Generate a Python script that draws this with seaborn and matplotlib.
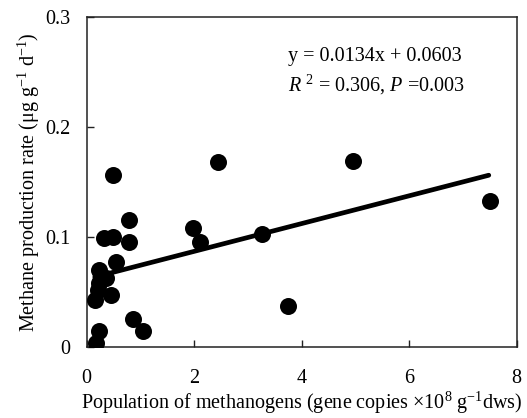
import matplotlib
matplotlib.use("Agg")
import matplotlib.pyplot as plt
import seaborn as sns
import pandas as pd

sns.set_theme(style="white")
plt.rcParams['font.family'] = ['Liberation Serif', 'DejaVu Serif']
plt.rcParams['mathtext.fontset'] = 'custom'
plt.rcParams['mathtext.rm'] = 'Liberation Serif'
plt.rcParams['mathtext.it'] = 'Liberation Serif:italic'

# Data
population = [0.49, 0.79, 0.32, 0.49, 0.79, 0.55, 0.23, 0.36, 0.23, 0.21, 0.45, 0.15,
              0.86, 1.05, 0.23, 0.17, 1.98, 2.11, 3.26, 3.75, 2.45, 4.96, 7.50]
methane = [0.156, 0.115, 0.099, 0.100, 0.095, 0.0775, 0.070, 0.063, 0.058, 0.052, 0.047, 0.043,
           0.025, 0.0145, 0.0145, 0.004, 0.108, 0.095, 0.103, 0.037, 0.168, 0.169, 0.133]
# trend line as drawn in the chart (endpoints)
trend_x = [0.15, 7.48]
trend_y = [0.0635, 0.156]
eq_text = "y = 0.0134x + 0.0603"
stat_text = r"$R$ $^{2}$ = 0.306, $P$ =0.003"
x_ticks = [0, 2, 4, 6, 8]
y_ticks = [0, 0.1, 0.2, 0.3]
y_ticklabels = ["0", "0.1", "0.2", "0.3"]

FS = 14.5
df = pd.DataFrame({"population": population, "methane": methane})
fit_df = pd.DataFrame({"x": trend_x, "y": trend_y})

fig = plt.figure(figsize=(5.27, 4.18), dpi=100)
ax = fig.add_axes([0.1645, 0.170, 0.816, 0.790])

sns.lineplot(data=fit_df, x="x", y="y", ax=ax, color="black", linewidth=3.4, zorder=2,
             solid_capstyle="round")
sns.scatterplot(data=df, x="population", y="methane", ax=ax, color="black", s=150,
                edgecolor="black", linewidth=0, zorder=3)

ax.set_xlim(0, 8)
ax.set_ylim(0, 0.3)
ax.set_xticks(x_ticks)
ax.set_xticklabels([str(t) for t in x_ticks])
ax.set_yticks(y_ticks)
ax.set_yticklabels(y_ticklabels)
ax.tick_params(direction="in", length=5, width=1, colors="#222222", labelcolor="black",
               labelsize=FS, bottom=True, left=True)
ax.tick_params(axis="x", pad=16)
ax.tick_params(axis="y", pad=12)
for s in ax.spines.values():
    s.set_visible(True)
    s.set_color("#222222")
    s.set_linewidth(1.1)

ax.set_xlabel(r"Population of methanogens (gene copies ×10$^{8}$ g$^{-1}$dws)", fontsize=FS,
              color="black", labelpad=1)
ax.set_ylabel(r"Methane production rate (μg g$^{-1}$ d$^{-1}$)", fontsize=FS, color="black",
              labelpad=2)

ax.text(3.745, 0.2636, eq_text, fontsize=FS, color="black", va="center", ha="left")
ax.text(3.745, 0.238, stat_text, fontsize=FS, color="black", va="center", ha="left")

fig.savefig("out.png", dpi=100)
